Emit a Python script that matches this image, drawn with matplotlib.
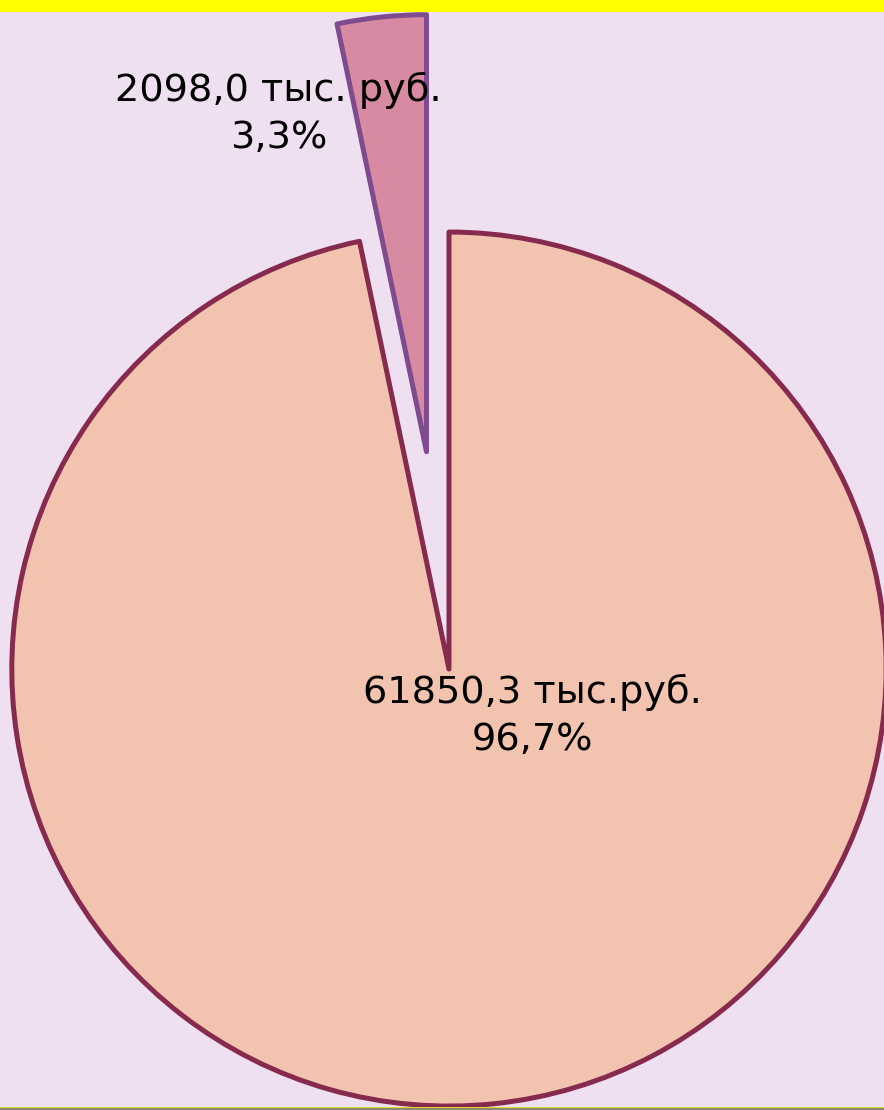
import matplotlib.pyplot as plt
from matplotlib.patches import Rectangle

# Data (thousand rubles)
categories = ['main', 'other']
values = [61850.3, 2098.0]
labels = ['61850,3 тыс.руб.\n96,7%', '2098,0 тыс. руб.\n3,3%']
explode = [0, 0.5]

fill_colors = ['#F2C4B0', '#D88AA2']
edge_colors = ['#862A4E', '#7D4B8E']
bg = '#EEE0F0'

fig = plt.figure(figsize=(8.84, 11.10), dpi=100)
fig.patch.set_facecolor(bg)
ax = fig.add_axes([0, 0, 1, 1])
ax.set_facecolor(bg)

wedges, _ = ax.pie(values, explode=explode, colors=fill_colors, startangle=90,
                   counterclock=False, radius=1,
                   wedgeprops=dict(linewidth=3.6, joinstyle='round'))
for w, ec in zip(wedges, edge_colors):
    w.set_edgecolor(ec)

ax.set_xlim(-1.027, 0.995)
ax.set_ylim(-1.009, 1.531)
ax.set_aspect('auto')
ax.axis('off')

# labels
ax.text(-0.39, 1.270, labels[1], ha='center', va='center', fontsize=27.5,
        family='DejaVu Sans', color='black', linespacing=1.4)
ax.text(0.19, -0.108, labels[0], ha='center', va='center', fontsize=27.5,
        family='DejaVu Sans', color='black', linespacing=1.4)

# yellow band at top, thin line at bottom
fig.patches.append(Rectangle((0, 1 - 12 / 1110), 1, 12 / 1110, transform=fig.transFigure,
                             facecolor='#FFFF00', edgecolor='none', zorder=5))
fig.patches.append(Rectangle((0, 0), 1, 3 / 1110, transform=fig.transFigure,
                             facecolor='#8A8A70', edgecolor='none', zorder=5))
fig.patches.append(Rectangle((0, 2 / 1110), 1, 1.5 / 1110, transform=fig.transFigure,
                             facecolor='#E0D830', edgecolor='none', zorder=5))

fig.savefig('out.png', dpi=100, facecolor=bg)
